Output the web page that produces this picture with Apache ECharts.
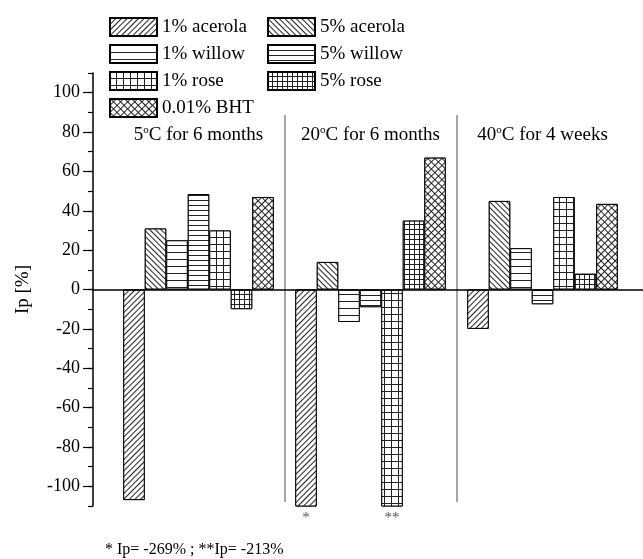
<!DOCTYPE html>
<html style="height: 100%">
<head>
    <meta charset="utf-8">
    <title>Ip</title>
    <script src="https://cdn.jsdelivr.net/npm/echarts/dist/echarts.min.js"></script>
</head>
<body style="height: 100%; margin: 0; background: #fff">
    <div id="main" style="width: 643px; height: 559px"></div>
    <script type="text/javascript">
        var myChart = echarts.init(document.getElementById('main'));

        // 数据
        var groups = ['5°C for 6 months', '20°C for 6 months', '40°C for 4 weeks'];
        var acerola1 = [-107, -269, -20];
        var acerola5 = [31, 14, 45];
        var willow1 = [25, -16.5, 21];
        var willow5 = [48.5, -9, -7.5];
        var rose1 = [30, -213, 47];
        var rose5 = [-10, 35, 8];
        var bht = [47, 67, 43.5];
        // 超出坐标轴的柱子标记
        var acerola1Notes = ['', '*', ''];
        var rose1Notes = ['', '**', ''];
        var yTicks = [-100, -80, -60, -40, -20, 0, 20, 40, 60, 80, 100];
        var footnote = '* Ip= -269% ; **Ip= -213%';

        var serif = "'Liberation Serif', 'Times New Roman', serif";
        var ink = '#222';

        function lines(gap, rot) {
            return { symbol: 'rect', symbolSize: 1, dashArrayX: [1, 0], dashArrayY: [1, gap],
                     rotation: rot, color: ink, backgroundColor: '#fff' };
        }
        function mesh(cell, rot) {
            return { symbol: 'rect', symbolSize: 1, dashArrayX: [cell, 1], dashArrayY: [cell, 1],
                     rotation: rot, color: '#fff', backgroundColor: ink };
        }

        function withNotes(values, notes) {
            return values.map(function (v, i) {
                if (!notes[i]) return v;
                return { value: v, label: { show: true, formatter: notes[i] } };
            });
        }

        function bar(name, data, decal) {
            return {
                name: name,
                type: 'bar',
                xAxisIndex: 0,
                yAxisIndex: 0,
                barGap: 0,
                barCategoryGap: '12.5%',
                data: data,
                label: { show: false, position: 'bottom', distance: 4, color: '#555',
                         fontSize: 15, fontFamily: serif },
                itemStyle: { color: '#fff', borderColor: '#000', borderWidth: 1, decal: decal }
            };
        }

        var legendBase = {
            orient: 'vertical', top: 12, itemWidth: 47, itemHeight: 18, itemGap: 7,
            icon: 'rect', selectedMode: false,
            textStyle: { fontSize: 19, fontFamily: serif, color: '#000' }
        };

        var option = {
            animation: false,
            backgroundColor: '#fff',
            title: {
                text: footnote, left: 100, top: 537,
                textStyle: { fontSize: 16, fontWeight: 'normal', fontFamily: serif, color: '#000' }
            },
            legend: [
                Object.assign({}, legendBase, { left: 104, data: ['1% acerola', '1% willow', '1% rose', '0.01% BHT'] }),
                Object.assign({}, legendBase, { left: 262, data: ['5% acerola', '5% willow', '5% rose'] })
            ],
            grid: [
                { left: 112.5, right: 14.5, top: 73, bottom: 53 },
                { left: 93, right: 0, top: 73, bottom: 53 },
                { left: 112.5, right: 14.5, top: 115, bottom: 57 }
            ],
            xAxis: [
                { gridIndex: 0, type: 'category', data: groups, show: false },
                {
                    gridIndex: 1, type: 'value', min: 0, max: 1, z: 10,
                    axisLine: { show: true, onZero: true, onZeroAxisIndex: 1, lineStyle: { color: '#000', width: 1.5 } },
                    axisTick: { show: false }, axisLabel: { show: false }, splitLine: { show: false }
                },
                {
                    gridIndex: 2, type: 'category', data: groups, position: 'top',
                    axisLine: { show: false }, axisTick: { show: false },
                    axisLabel: {
                        inside: true, margin: 10, interval: 0,
                        formatter: function (v) { return v.replace('°', '{sup|o}'); },
                        color: '#000', fontSize: 19, fontFamily: serif,
                        rich: { sup: { fontSize: 11, fontFamily: serif, color: '#000', verticalAlign: 'top', padding: [0, 0, 10, 0] } }
                    },
                    splitLine: { show: true, showMinLine: false, showMaxLine: false, interval: 0,
                                 lineStyle: { color: '#888', width: 1.5 } }
                }
            ],
            yAxis: [
                { gridIndex: 0, type: 'value', min: -110, max: 110, show: false },
                {
                    gridIndex: 1, type: 'value', position: 'left', min: -110, max: 110, interval: 10,
                    axisLine: { show: true, onZero: false, lineStyle: { color: '#000', width: 1.5 } },
                    axisTick: { show: true, length: 5, lineStyle: { color: '#000', width: 1.2 } },
                    axisLabel: { show: false }, splitLine: { show: false }
                },
                {
                    gridIndex: 1, type: 'value', position: 'left', offset: 0, min: -110, max: 110,
                    name: 'Ip [%]', nameLocation: 'middle', nameGap: 60, nameRotate: 90,
                    nameTextStyle: { fontSize: 19, fontFamily: serif, color: '#000' },
                    axisLine: { show: false, onZero: false },
                    axisTick: { show: true, length: 10, customValues: yTicks, lineStyle: { color: '#000', width: 1.2 } },
                    axisLabel: { show: true, margin: 13, customValues: yTicks, color: '#000',
                                 fontSize: 18, fontFamily: serif },
                    splitLine: { show: false }
                },
                { gridIndex: 2, type: 'value', min: 0, max: 1, show: false }
            ],
            series: [
                bar('1% acerola', withNotes(acerola1, acerola1Notes), lines(2.2, -Math.PI / 4)),
                bar('5% acerola', acerola5, lines(2.6, Math.PI / 4)),
                bar('1% willow', willow1, lines(6, 0)),
                bar('5% willow', willow5, lines(3.5, 0)),
                bar('1% rose', withNotes(rose1, rose1Notes), mesh(6, 0)),
                bar('5% rose', rose5, mesh(3.5, 0)),
                bar('0.01% BHT', bht, mesh(4, Math.PI / 4))
            ]
        };

        myChart.setOption(option);
    </script>
</body>
</html>
